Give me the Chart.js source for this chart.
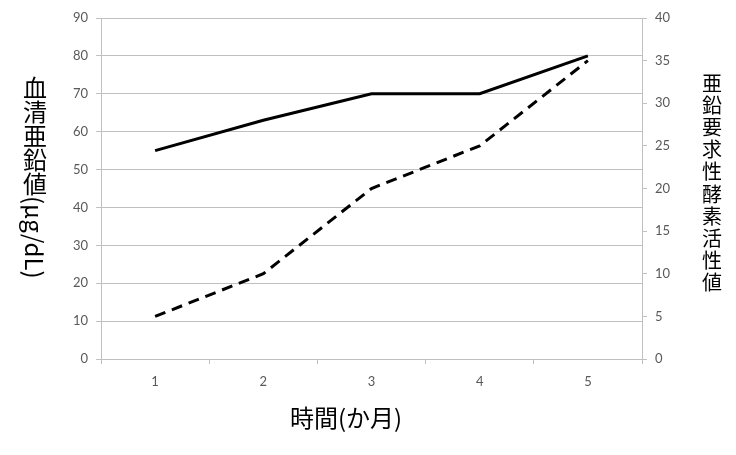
<!DOCTYPE html>
<html>
<head>
<meta charset="utf-8">
<script src="https://cdn.jsdelivr.net/npm/chart.js@4"></script>
<style>
  html, body { margin: 0; padding: 0; background: #fff; }
  #wrap { width: 736px; height: 455px; }
</style>
</head>
<body>
<div id="wrap"><canvas id="c"></canvas></div>
<script>
// データ
const months = ['1', '2', '3', '4', '5'];
const serumZinc = [55, 63, 70, 70, 80];        // 左軸 血清亜鉛値
const enzymeActivity = [5, 10, 20, 25, 35];    // 右軸 亜鉛要求性酵素活性値

const leftTitleCjk = '血清亜鉛値';
const leftTitleLatin = '(μg/dL)';
const rightTitle = '亜鉛要求性酵素活性値';
const xTitle = '時間(か月)';

const JP_FONT = "'Noto Sans CJK JP', sans-serif";
const GRID = '#c0c0c0';
const TICK_COLOR = '#595959';

// 縦書きタイトル
const titlePlugin = {
    id: 'titles',
    afterDraw(chart) {
        const ctx = chart.ctx;
        ctx.save();
        ctx.fillStyle = '#000';
        ctx.textAlign = 'center';
        ctx.textBaseline = 'middle';

        // 左タイトル
        ctx.font = `24px ${JP_FONT}`;
        let y = 88;
        for (const ch of leftTitleCjk) {
            ctx.fillText(ch, 35, y);
            y += 24;
        }
        const w = ctx.measureText(leftTitleLatin).width;
        ctx.save();
        ctx.translate(35, y - 12 + w / 2);
        ctx.rotate(Math.PI / 2);
        ctx.fillText(leftTitleLatin, 0, 1);
        ctx.restore();

        // 右タイトル
        ctx.font = `20px ${JP_FONT}`;
        y = 83;
        for (const ch of rightTitle) {
            ctx.fillText(ch, 712, y);
            y += 22.2;
        }

        // X軸タイトル
        ctx.font = `24px ${JP_FONT}`;
        ctx.fillText(xTitle, 346, 418);
        ctx.restore();
    }
};

const tickFont = { family: "Lato, 'Liberation Sans', sans-serif", size: 13 };

new Chart(document.getElementById('c'), {
    type: 'line',
    data: {
        labels: months,
        datasets: [
            { label: '血清亜鉛値', data: serumZinc, yAxisID: 'y', borderColor: '#000', borderWidth: 3, pointRadius: 0, tension: 0, fill: false },
            { label: '亜鉛要求性酵素活性値', data: enzymeActivity, yAxisID: 'y1', borderColor: '#000', borderWidth: 3, borderDash: [11, 7], pointRadius: 0, tension: 0, fill: false }
        ]
    },
    options: {
        responsive: true,
        maintainAspectRatio: false,
        animation: false,
        layout: { padding: { top: 18, left: 0, right: 0, bottom: 0 } },
        plugins: { legend: { display: false }, tooltip: { enabled: false } },
        scales: {
            x: {
                offset: true,
                grid: { drawOnChartArea: false, drawTicks: true, tickLength: 5, color: GRID, offset: true },
                border: { color: GRID },
                ticks: { color: TICK_COLOR, font: tickFont, padding: 10, maxRotation: 0 },
                afterFit(scale) { scale.height = 96; }
            },
            y: {
                position: 'left',
                min: 0, max: 90,
                ticks: { stepSize: 10, color: TICK_COLOR, font: tickFont, padding: 8 },
                grid: { color: GRID, tickLength: 5 },
                border: { color: GRID },
                afterFit(scale) { scale.width = 101; }
            },
            y1: {
                position: 'right',
                min: 0, max: 40,
                ticks: { stepSize: 5, color: TICK_COLOR, font: tickFont, padding: 8 },
                grid: { drawOnChartArea: false, color: GRID, tickLength: 5 },
                border: { color: GRID },
                afterFit(scale) { scale.width = 94; }
            }
        }
    },
    plugins: [titlePlugin]
});
</script>
</body>
</html>
